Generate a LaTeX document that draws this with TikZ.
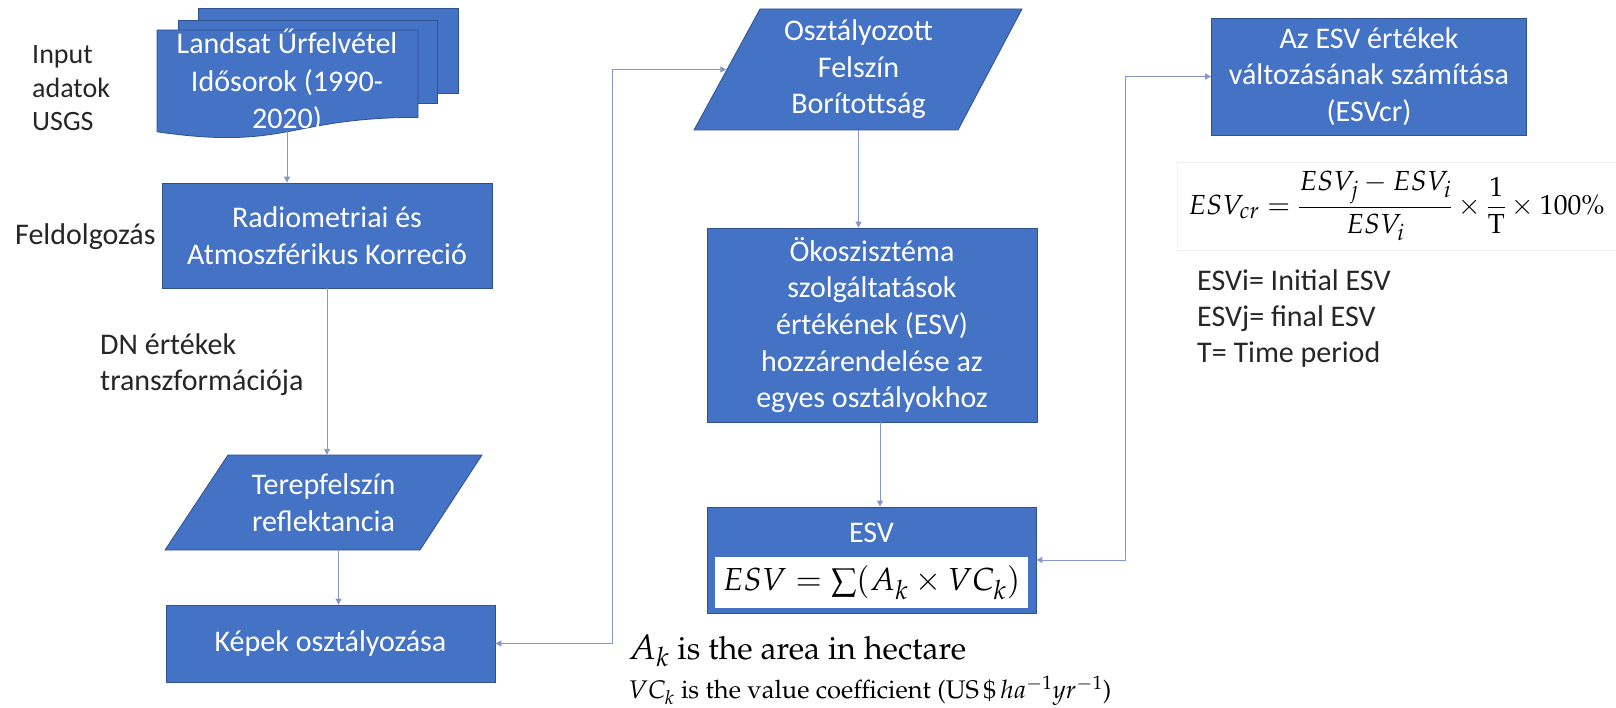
\documentclass[tikz,border=0pt]{standalone}
\usepackage{amsmath}
\usepackage{mathpazo}
\usepackage[T1]{fontenc}
\usepackage[no-math]{fontspec}
\setmainfont{Carlito}
\usepackage{xcolor}
\usepackage{tikz}
\usetikzlibrary{arrows.meta}
\definecolor{boxblue}{HTML}{4472C4}
\definecolor{boxedge}{HTML}{2F528F}
\definecolor{linkblue}{HTML}{8497C9}
\definecolor{ink}{HTML}{262626}
\newcommand{\palfont}{\fontencoding{T1}\fontfamily{ppl}\selectfont}

\begin{document}
\begin{tikzpicture}[x=1pt,y=-1pt,>={Triangle[length=6pt,width=6pt]},
  boxshape/.style={draw=boxedge,fill=boxblue,line width=0.8pt},
  box/.style={rectangle,boxshape,text=white,align=center,inner sep=0pt,font=\fontsize{30}{36.6}\selectfont},
  ptext/.style={rectangle,text=white,align=center,inner sep=0pt,font=\fontsize{30}{36.6}\selectfont},
  lbl/.style={text=ink,align=left,anchor=west,inner sep=0pt,font=\fontsize{30}{36}\selectfont},
  link/.style={draw=linkblue,line width=0.9pt}]
  \useasboundingbox (0,0) rectangle (1616,708);

  \draw[boxshape] (198,8) rectangle (458,93);
  \draw[boxshape] (178,20) rectangle (437,103);
  \draw[boxshape] (157,30) -- (418,30) -- (418,117.4) .. controls (287.5,117.4) and (287.5,150.7) .. (157,131.8) -- cycle;
  \node[ptext,font=\fontsize{30}{37.5}\selectfont] (landsat) at (287,81) {Landsat Űrfelvétel\\Idősorok (1990-\\2020)};
  \coordinate (docbot) at (287,131);

  \node[lbl,font=\fontsize{28}{33.5}\selectfont] (input) at (32,88.5) {Input\\adatok\\USGS};
  \node[box,minimum width=330,minimum height=105] (radio) at (327,235.5) {Radiometriai és\\Atmoszférikus Korreció};
  \node[lbl] (feldolg) at (15,237) {Feldolgozás};
  \node[lbl] (dn) at (100,365) {DN értékek\\transzformációja};
  \draw[boxshape] (165,550) -- (420,550) -- (482,455) -- (228,455) -- cycle;
  \node[ptext,minimum width=254,minimum height=95] (tere) at (323.5,502.5) {Terepfelszín\\reflektancia};
  \node[box,minimum width=329,minimum height=77] (kepek) at (330.5,643.5) {Képek osztályozása};

  \draw[boxshape] (694,130) -- (958,130) -- (1022,9) -- (760,9) -- cycle;
  \node[ptext,minimum width=264,minimum height=121] (oszt) at (858.5,69.5) {Osztályozott\\Felszín\\Borítottság};
  \node[box,minimum width=330,minimum height=194] (okosz) at (872,325) {Ökoszisztéma\\szolgáltatások\\értékének (ESV)\\hozzárendelése az\\egyes osztályokhoz};
  \node[box,minimum width=329,minimum height=106] (esv) at (871.5,560) {};
  \node[text=white,inner sep=0pt,font=\fontsize{30}{36}\selectfont] (esvlbl) at (871.5,533) {ESV};
  \node[fill=white,minimum width=313,minimum height=51,inner sep=0pt,text=black,font=\fontsize{24.88}{30}\selectfont] (esvform) at (871.5,582.5) {\scalebox{1.28}{$ESV=\sum(A_k\times VC_k)$}};
  \node[anchor=west,inner sep=0pt,text=black,font={\fontsize{32}{36}\selectfont\palfont}] (aknote) at (628,651) {\scalebox{1.1}{$A_k$} is the area in hectare};
  \node[anchor=west,inner sep=0pt,text=black,font={\fontsize{25.5}{30}\selectfont\palfont}] (vcnote) at (628,691) {$VC_k$ is the value coefficient (US\,\$\,$ha^{-1}yr^{-1}$)};

  \node[box,minimum width=315,minimum height=117] (azesv) at (1369,76.5) {Az ESV értékek\\változásának számítása\\(ESVcr)};
  \node[draw=black!6,fill=white,minimum width=439,minimum height=88,inner sep=0pt,text=black,font=\fontsize{24.88}{30}\selectfont] (crform) at (1396.5,206) {\scalebox{1.11}{$\displaystyle ESV_{cr}=\frac{ESV_j-ESV_i}{ESV_i}\times\frac{1}{\mathrm{T}}\times 100\%$}};
  \node[lbl] (legend) at (1197,318.5) {ESVi= Initial ESV\\ESVj= final ESV\\T= Time period};

  \draw[link,->] (docbot) -- (docbot |- radio.north);
  \draw[link,->] (radio.south) -- (radio.south |- tere.north);
  \draw[link,->] ([xshift=15pt]tere.south) -- ([xshift=15pt]tere.south |- kepek.north);
  \draw[link,->] (oszt.south) -- (oszt.south |- okosz.north);
  \draw[link,->] ([xshift=8pt]okosz.south) -- ([xshift=8pt]okosz.south |- esv.north);
  \draw[link,<->] (kepek.east) -- ++(117,0) |- (oszt);
  \draw[link,<->] (esv.east) -- ++(89,0) |- (azesv);
\end{tikzpicture}
\end{document}
